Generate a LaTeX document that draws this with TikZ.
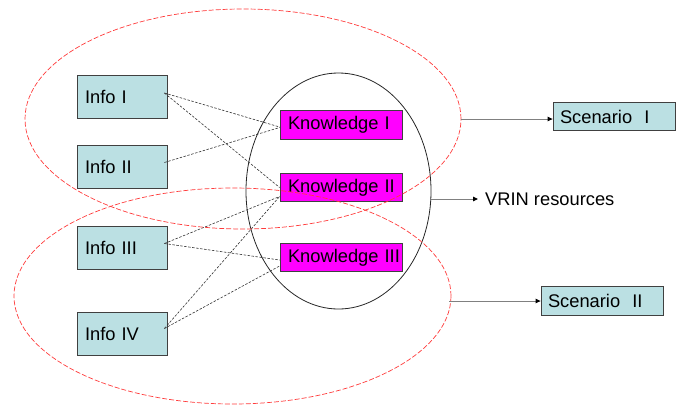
\documentclass[tikz,border=0pt]{standalone}
\usepackage{fontspec}
\setmainfont{Liberation Sans}
\usetikzlibrary{shapes.geometric,arrows.meta,calc}
\definecolor{infofill}{RGB}{187,224,227}
\definecolor{kfill}{RGB}{255,0,255}
\definecolor{redline}{RGB}{255,59,59}
\definecolor{arrowgray}{RGB}{128,128,128}
\begin{document}
\begin{tikzpicture}[x=1pt,y=-1pt,
  box/.style={draw=black!75, line width=0.8pt, inner xsep=8pt, inner ysep=0pt, align=left,
    font=\fontsize{18.3}{20}\selectfont, anchor=center},
  infobox/.style={box, fill=infofill, text width=74pt, minimum height=43pt},
  knowbox/.style={box, fill=kfill, text width=106pt, minimum height=28.5pt},
  scenbox/.style={box, fill=infofill, text width=108pt, minimum height=28.5pt, inner xsep=7pt},
  link/.style={draw=black!80, dash pattern=on 2.5pt off 1.5pt, line width=0.6pt},
  redell/.style={draw=redline, ellipse, inner sep=0pt, dash pattern=on 5pt off 2pt, line width=0.7pt},
  blackell/.style={draw=black!85, ellipse, inner sep=0pt, line width=0.8pt},
  outarrow/.style={draw=arrowgray, line width=1pt, -{Triangle[length=5pt,width=4.5pt,color=black]}},
  plain/.style={inner sep=0pt, font=\fontsize{18.3}{20}\selectfont}
]
\useasboundingbox (0,0) rectangle (680,405);

% central black ellipse
\node[blackell, minimum width=185pt, minimum height=236pt] (core) at (338.5,191) {};

% info boxes
\node[infobox] (i1) at (122,96.5) {Info I};
\node[infobox] (i2) at (122,166.5) {Info II};
\node[infobox] (i3) at (122,247.5) {Info III};
\node[infobox] (i4) at (122,334) {Info IV};

% knowledge boxes
\node[knowbox] (k1) at (341,125) {\mbox{Knowledge I}};
\node[knowbox] (k2) at (341,187.5) {\mbox{Knowledge II}};
\node[knowbox] (k3) at (341,257.5) {\mbox{Knowledge III}};

% scenarios
\node[scenbox] (s1) at (614,116.5) {Scenario\ \ I};
\node[scenbox] (s2) at (602,301) {Scenario\ \ II};

% VRIN text
\node[plain, anchor=west] (vr) at (485,199) {VRIN resources};

% dashed links
\draw[link] ([xshift=-3pt,yshift=3.5pt]i1.east) -- ([yshift=-2pt]k1.west);
\draw[link] ([xshift=-3pt,yshift=3.5pt]i1.east) -- (k2.west);
\draw[link] ([xshift=-3pt,yshift=4pt]i2.east) -- ([yshift=-2.5pt]k1.west);
\draw[link] ([xshift=-3pt,yshift=4pt]i3.east) -- ([yshift=-9pt]k2.west);
\draw[link] ([xshift=-3pt,yshift=4pt]i3.east) -- ([yshift=-2.5pt]k3.west);
\draw[link] ([xshift=-3pt,yshift=5.5pt]i4.east) -- ([yshift=-9pt]k2.west);
\draw[link] ([xshift=-3pt,yshift=5.5pt]i4.east) -- ([yshift=-8.5pt]k3.west);

% red dashed ellipses
\node[redell, minimum width=436pt, minimum height=220pt] (e1) at (243,119) {};
\node[redell, minimum width=437pt, minimum height=216pt] (e2) at (232.5,296) {};

% arrows
\draw[outarrow] (e1.east) -- (e1.east -| s1.west);
\draw[outarrow] ([xshift=-2pt]e2.east |- s2.west) -- (s2.west);
\draw[outarrow] (core.east |- vr.west) -- ([xshift=-7pt]vr.west);
\end{tikzpicture}
\end{document}
